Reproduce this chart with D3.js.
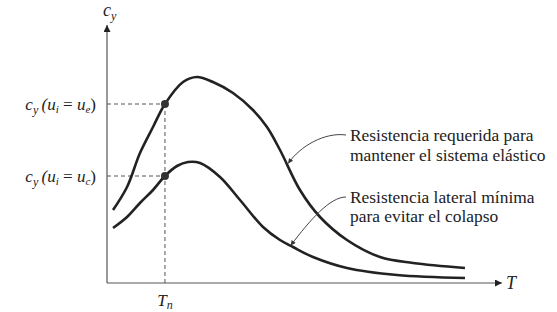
<!DOCTYPE html>
<html><head><meta charset="utf-8">
<script src="https://cdn.jsdelivr.net/npm/d3@7"></script>
<style>
html,body{margin:0;padding:0;background:#fff;}
</style></head>
<body><svg id="c" width="557" height="312"></svg>
<script>
// Curve data (T, c_y) in arbitrary units
const upperT = [0.061,0.203,0.334,0.466,0.587,0.77,0.911,1.073,1.276,1.478,1.62,1.752,1.954,2.157,2.43,2.765,3.099,3.625];
const upperC = [0.292,0.384,0.52,0.624,0.716,0.804,0.824,0.804,0.76,0.692,0.624,0.532,0.372,0.264,0.172,0.104,0.08,0.06];
const lowerT = [0.061,0.203,0.334,0.466,0.587,0.709,0.82,0.942,1.144,1.347,1.58,1.752,1.884,2.086,2.43,2.937,3.625];
const lowerC = [0.22,0.264,0.32,0.372,0.428,0.468,0.484,0.48,0.424,0.332,0.224,0.172,0.144,0.104,0.06,0.032,0.02];
const Tn = 0.587;
const cyE = 0.716, cyC = 0.428;
const annUpper = ["Resistencia requerida para", "mantener el sistema elástico"];
const annLower = ["Resistencia lateral mínima", "para evitar el colapso"];

const FONT = '"Liberation Serif"';
const svg = d3.select("#c");
const x = d3.scaleLinear().domain([0,4]).range([107,502]);
const y = d3.scaleLinear().domain([0,1]).range([283,33]);

function txt(sel){ return sel.append("text").style("font-family",FONT).attr("fill","#222"); }

const defs = svg.append("defs");
defs.append("marker").attr("id","ax").attr("viewBox","0 0 10 10").attr("refX",10).attr("refY",5)
  .attr("markerWidth",14).attr("markerHeight",7).attr("markerUnits","userSpaceOnUse").attr("orient","auto")
  .append("path").attr("d","M0,0 L10,5 L0,10 Z").attr("fill","#222");
defs.append("marker").attr("id","la").attr("viewBox","0 0 10 10").attr("refX",10).attr("refY",5)
  .attr("markerWidth",9).attr("markerHeight",5).attr("markerUnits","userSpaceOnUse").attr("orient","auto")
  .append("path").attr("d","M0,0 L10,5 L0,10 Z").attr("fill","#333");

// axes
svg.append("line").attr("x1",x(0)).attr("y1",y(0)).attr("x2",x(0)).attr("y2",25)
  .attr("stroke","#555").attr("stroke-width",1.2).attr("marker-end","url(#ax)");
svg.append("line").attr("x1",x(0)).attr("y1",y(0)).attr("x2",x(4)).attr("y2",y(0))
  .attr("stroke","#555").attr("stroke-width",1.2).attr("marker-end","url(#ax)");

// dashed guides
const dash = "4,3";
[cyE, cyC].forEach(v=>{
  svg.append("line").attr("x1",x(0)).attr("x2",x(Tn)).attr("y1",y(v)).attr("y2",y(v))
    .attr("stroke","#555").attr("stroke-width",1).attr("stroke-dasharray",dash);
});
svg.append("line").attr("x1",x(Tn)).attr("x2",x(Tn)).attr("y1",y(cyE)).attr("y2",y(0))
  .attr("stroke","#555").attr("stroke-width",1).attr("stroke-dasharray",dash);

// curves
const line = d3.line().x(d=>x(d[0])).y(d=>y(d[1])).curve(d3.curveCatmullRom.alpha(0.5));
svg.append("path").attr("d", line(upperT.map((t,i)=>[t,upperC[i]])))
  .attr("fill","none").attr("stroke","#222").attr("stroke-width",2.6);
svg.append("path").attr("d", line(lowerT.map((t,i)=>[t,lowerC[i]])))
  .attr("fill","none").attr("stroke","#222").attr("stroke-width",2.6);

// dots
[cyE, cyC].forEach(v=>{
  svg.append("circle").attr("cx",x(Tn)).attr("cy",y(v)).attr("r",4).attr("fill","#333");
});

// axis labels
function cyLabel(xr, yb, sub){
  const t = txt(svg).attr("x",xr).attr("y",yb).attr("text-anchor","end")
    .attr("font-size",17).attr("font-style","italic");
  t.append("tspan").text("c");
  t.append("tspan").attr("font-size",12).attr("dy",4).text("y");
  t.append("tspan").attr("dy",-4).text("\u2009(u");
  t.append("tspan").attr("font-size",11).attr("dy",3).text("i");
  t.append("tspan").attr("dy",-3).attr("font-style","normal").text(" = ");
  t.append("tspan").text("u");
  t.append("tspan").attr("font-size",11).attr("dy",3).text(sub);
  t.append("tspan").attr("dy",-3).attr("font-style","normal").text(")");
}
cyLabel(96, y(cyE)+6, "e");
cyLabel(96, y(cyC)+6, "c");

const topLbl = txt(svg).attr("x",103).attr("y",16).attr("font-size",18).attr("font-style","italic");
topLbl.append("tspan").text("c");
topLbl.append("tspan").attr("font-size",12).attr("dy",4).text("y");

txt(svg).attr("x",506).attr("y",289).attr("font-size",18).attr("font-style","italic").text("T");
const tnLbl = txt(svg).attr("x",x(Tn)).attr("y",306).attr("text-anchor","middle").attr("font-size",17).attr("font-style","italic");
tnLbl.append("tspan").text("T");
tnLbl.append("tspan").attr("font-size",12).attr("dy",3).text("n");

// annotations (one text element per line)
function ann(lines, xt, yt, gap, tipT, tipC, ctrl){
  lines.forEach((s,i)=>{
    txt(svg).attr("x",xt).attr("y",yt+i*gap).attr("font-size",17.4).text(s);
  });
  const tx = x(tipT), ty = y(tipC);
  svg.append("path").attr("d",`M${xt-4},${yt-6} C${ctrl[0]},${ctrl[1]} ${ctrl[2]},${ctrl[3]} ${tx},${ty}`)
    .attr("fill","none").attr("stroke","#444").attr("stroke-width",1).attr("marker-end","url(#la)");
}
ann(annUpper, 350, 141, 20, 1.835, 0.478, [325,132, 300,146]);
ann(annLower, 350, 203, 19, 1.86, 0.15, [330,197, 310,220]);
</script></body></html>
